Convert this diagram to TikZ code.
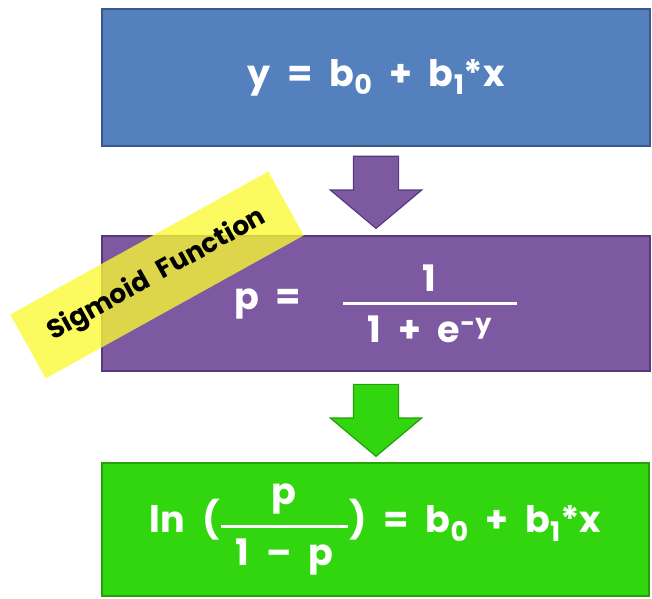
\documentclass[tikz,border=0pt]{standalone}
\usepackage{amsmath}
\usepackage{fontspec}
\setmainfont{Poppins}[WordSpace=2.2]
\usepackage{tikz}
\usetikzlibrary{shapes.arrows, positioning, calc}

\definecolor{lineblue}{RGB}{85,128,190}
\definecolor{lineblueedge}{RGB}{58,88,140}
\definecolor{sigpurple}{RGB}{125,89,161}
\definecolor{sigpurpleedge}{RGB}{88,58,122}
\definecolor{logitgreen}{RGB}{50,214,14}
\definecolor{logitgreenedge}{RGB}{36,160,10}
\definecolor{tagyellow}{RGB}{250,250,50}

% lowered, large subscript
\newcommand{\lowsub}[1]{\raisebox{-0.24em}{\fontsize{27}{30}\selectfont #1}}

\begin{document}
\begin{tikzpicture}[
    x=1pt, y=1pt,
    eqbox/.style={rectangle, line width=1.5pt,
                  minimum width=548pt, minimum height=135pt,
                  align=center, text=white,
                  font=\fontsize{36.5}{40}\selectfont\bfseries},
    linbox/.style={eqbox, fill=lineblue, draw=lineblueedge},
    sigbox/.style={eqbox, fill=sigpurple, draw=sigpurpleedge},
    logbox/.style={eqbox, fill=logitgreen, draw=logitgreenedge},
    downarrow/.style={single arrow, shape border rotate=270, inner sep=22pt,
                      minimum width=90pt, minimum height=72pt,
                      single arrow head extend=23pt, anchor=tail,
                      single arrow tip angle=100, line width=1.2pt},
    tag/.style={rectangle, fill=tagyellow, fill opacity=0.78, text opacity=1,
                minimum width=295pt, minimum height=73pt,
                font=\fontsize{26.5}{30}\selectfont\bfseries}
]
\useasboundingbox (0,0) rectangle (652,598);

% Linear model
\node[linbox, minimum height=137pt] (linear) at (376,520.5)
      {y = b\lowsub{0} + b\lowsub{1}*x};

% Sigmoid
\node[sigbox] (sigmoid) at (376,294.5)
      {$\text{p =}\hspace{40pt}\genfrac{}{}{3.5pt}{0}{\text{1}}{\text{\makebox[174pt]{1 + e\textsuperscript{-y}}}}$};

% Logit
\node[logbox, minimum width=547pt, minimum height=133pt] (logit) at (375.5,68.5)
      {$\text{ln (}\genfrac{}{}{3.5pt}{0}{\text{p}}{\text{\makebox[127pt]{1 -- p}}}\text{) = b\lowsub{0} + b\lowsub{1}*x}$};

% Arrows between boxes
\node[downarrow, fill=sigpurple, draw=sigpurpleedge]
      (toSigmoid) at ($(linear.south)+(0,-9)$) {};
\node[downarrow, fill=logitgreen, draw=logitgreenedge]
      (toLogit) at ($(sigmoid.south)+(0,-12)$) {};

% Label
\node[tag, rotate=29] (sigtag) at (157,323) {Sigmoid Function};

\end{tikzpicture}
\end{document}
